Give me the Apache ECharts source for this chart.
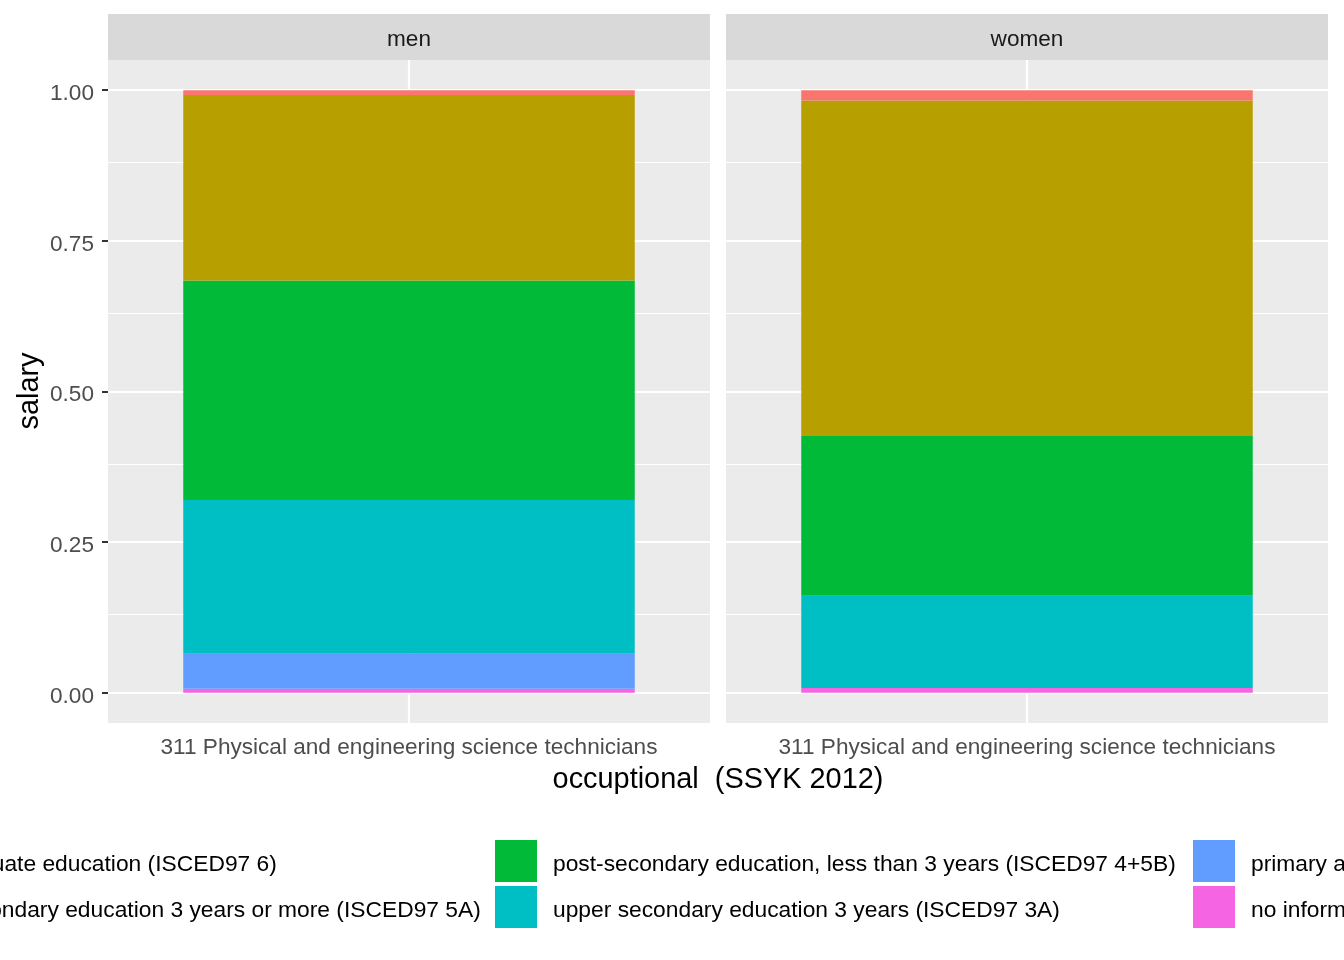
<!DOCTYPE html>
<html>
<head>
<meta charset="utf-8">
<script src="https://cdn.jsdelivr.net/npm/echarts@6/dist/echarts.min.js"></script>
<style>
html,body{margin:0;padding:0;background:#fff;}
#chart{width:1344px;height:960px;}
</style>
</head>
<body>
<div id="chart"></div>
<script>
// ---- data ----
const categories = ['311 Physical and engineering science technicians'];
const panels = ['men', 'women'];
// legend order (ggplot order); stacking is bottom = last
const levels = [
  'postgraduate education (ISCED97 6)',
  'post-secondary education 3 years or more (ISCED97 5A)',
  'post-secondary education, less than 3 years (ISCED97 4+5B)',
  'upper secondary education 3 years (ISCED97 3A)',
  'primary and secondary education 9-10 years (ISCED97 2)',
  'no information about level of educational attainment'
];
const colors = ['#F8766D', '#B79F00', '#00BA38', '#00BFC4', '#619CFF', '#F564E3'];
const menValues   = [0.008, 0.308, 0.364, 0.255, 0.058, 0.007];
const womenValues = [0.017, 0.557, 0.265, 0.153, 0.000, 0.008];
const yTicks = [0, 0.25, 0.5, 0.75, 1];
const yMinor = [0.125, 0.375, 0.625, 0.875];

const FONT = "'Liberation Sans', Arial, sans-serif";
const panelValues = [menValues, womenValues];
const gridLefts = [108, 726];
const gridW = 602, gridTop = 60, gridH = 663;

const grids = [], xAxes = [], yAxes = [], series = [];
panels.forEach((p, gi) => {
  grids.push({left: gridLefts[gi], top: gridTop, width: gridW, height: gridH,
    show: true, backgroundColor: '#EBEBEB', borderWidth: 0, containLabel: false});
  xAxes.push({type: 'category', gridIndex: gi, data: categories,
    axisLine: {show: false},
    axisTick: {show: true, alignWithLabel: true, length: 6, lineStyle: {color: '#333333', width: 2}},
    axisLabel: {color: '#4D4D4D', fontSize: 22.6, fontFamily: FONT, margin: 13},
    splitLine: {show: false}});
  yAxes.push({type: 'value', gridIndex: gi, min: -0.05, max: 1.05,
    axisLine: {show: false}, splitLine: {show: false},
    axisTick: {show: gi === 0, length: 6, customValues: yTicks, lineStyle: {color: '#333333', width: 2}},
    axisLabel: {show: gi === 0, customValues: yTicks, margin: 14,
      formatter: v => '{t|' + Number(v).toFixed(2) + '}',
      rich: {t: {color: '#4D4D4D', fontSize: 22.6, fontFamily: FONT, padding: [7, 0, 0, 0]}}}});
  const gridLines = [];
  yTicks.forEach(v => gridLines.push({yAxis: v, lineStyle: {width: 2.2}}));
  yMinor.forEach(v => gridLines.push({yAxis: v, lineStyle: {width: 1.1}}));
  gridLines.push({xAxis: categories[0], lineStyle: {width: 2.2}});
  // bottom of stack first
  for (let k = levels.length - 1; k >= 0; k--) {
    const s = {type: 'bar', name: levels[k], xAxisIndex: gi, yAxisIndex: gi,
      stack: p, barWidth: '75%', z: 2,
      itemStyle: {color: colors[k]},
      data: [panelValues[gi][k]]};
    if (k === levels.length - 1) {
      s.markLine = {silent: true, z: 1, symbol: ['none', 'none'], label: {show: false},
        lineStyle: {color: '#FFFFFF', type: 'solid', width: 2}, data: gridLines,
        emphasis: {disabled: true}};
    }
    series.push(s);
  }
});

const legendCommon = {orient: 'vertical', top: 840, padding: 0, itemWidth: 42, itemHeight: 42, itemGap: 4,
  icon: 'rect', selectedMode: false,
  formatter: name => '{t|' + name + '}',
  textStyle: {fontSize: 22.8, fontFamily: FONT, color: '#000000',
    rich: {t: {fontSize: 22.8, fontFamily: FONT, color: '#000000', padding: [7, 0, 0, 11]}}}};
const legendLefts = [-155, 495, 1193];
const legends = legendLefts.map((l, i) => Object.assign({}, legendCommon,
  {left: l, data: [levels[i * 2], levels[i * 2 + 1]]}));

const graphics = [];
panels.forEach((p, gi) => {
  graphics.push({type: 'rect', shape: {x: gridLefts[gi], y: 14, width: gridW, height: 46},
    style: {fill: '#D9D9D9'}, silent: true});
  graphics.push({type: 'text', x: gridLefts[gi] + gridW / 2, y: 40,
    style: {text: p, fill: '#1A1A1A', fontSize: 22.6, fontFamily: FONT,
      textAlign: 'center', textVerticalAlign: 'middle'}});
});
graphics.push({type: 'text', x: 718, y: 780,
  style: {text: 'occuptional  (SSYK 2012)', fill: '#000000', fontSize: 28.9, fontFamily: FONT,
    textAlign: 'center', textVerticalAlign: 'middle'}});
graphics.push({type: 'text', x: 30, y: 391, rotation: Math.PI / 2,
  style: {text: 'salary', fill: '#000000', fontSize: 28.9, fontFamily: FONT,
    textAlign: 'center', textVerticalAlign: 'middle'}});

const chart = echarts.init(document.getElementById('chart'), null, {renderer: 'canvas'});
chart.setOption({
  animation: false,
  backgroundColor: '#FFFFFF',
  grid: grids, xAxis: xAxes, yAxis: yAxes,
  legend: legends,
  series: series,
  graphic: graphics
});
</script>
</body>
</html>
